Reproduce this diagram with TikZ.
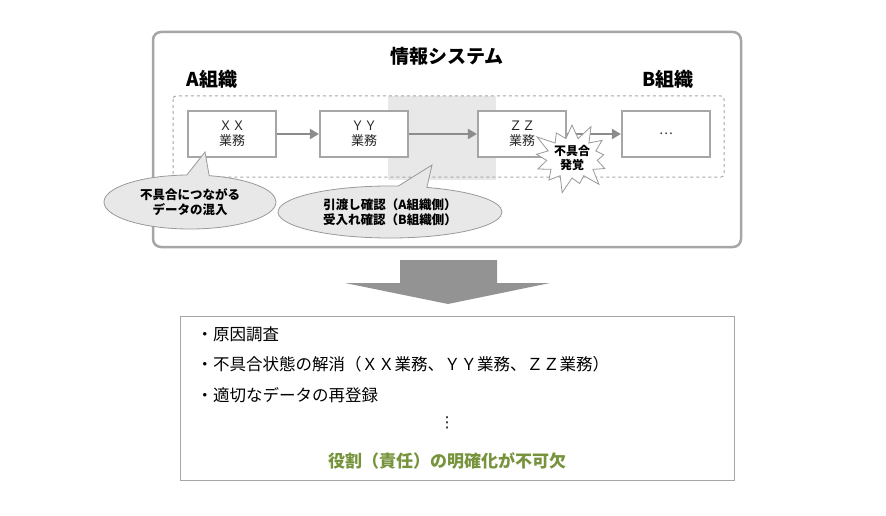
\documentclass[tikz,border=0pt]{standalone}
\usepackage{fontspec}
\setmainfont{Noto Sans CJK JP}
\newfontfamily\symfont{DejaVu Sans}
\usetikzlibrary{shapes.symbols,shapes.callouts,arrows.meta}
\definecolor{frame}{HTML}{A6A6A6}
\definecolor{paleshade}{HTML}{E8E8E8}
\definecolor{keygreen}{HTML}{77933C}
\tikzset{
  task/.style={draw=frame, line width=2.2pt, fill=white, minimum width=88pt, minimum height=46pt, align=center, font=\fontsize{13}{15}\selectfont, text=black!85},
  flow/.style={draw=gray!90, line width=2.5pt, -{Triangle[length=9pt,width=10pt]}},
  bubble/.style={ellipse callout, draw=gray!80, fill=paleshade, line width=0.8pt, align=center, font=\bfseries\fontsize{12.5}{15}\selectfont},
  item/.style={anchor=west, font=\fontsize{16.5}{19}\selectfont}
}
\begin{document}
\begin{tikzpicture}[x=1pt, y=-1pt]
\useasboundingbox (0,0) rectangle (886,516);
% system frame
\draw[draw=frame, line width=2.5pt, rounded corners=8pt] (153,32) rectangle (741,247);
\node[font=\bfseries\fontsize{19}{21}\selectfont] (title) at (447,56) {情報システム};
\node[font=\bfseries\fontsize{19}{21}\selectfont] (orgA) at (212,79) {A組織};
\node[font=\bfseries\fontsize{19}{21}\selectfont] (orgB) at (668,79) {B組織};
\fill[paleshade] (388,96) rectangle (496,180);
\draw[frame, dashed, line width=1pt, rounded corners=3pt] (173,96) rectangle (724,177);
% tasks
\node[task] (xx) at (232,134) {ＸＸ\\業務};
\node[task] (yy) at (364,134) {ＹＹ\\業務};
\node[task] (zz) at (522,134) {ＺＺ\\業務};
\node[task] (etc) at (666,134) {…};
\draw[flow] (xx) -- (yy);
\draw[flow] (yy) -- (zz);
\draw[flow] (zz) -- (etc);
\node[starburst, draw=gray!80, fill=white, line width=0.8pt, starburst points=13, starburst point height=18pt, minimum width=84pt, minimum height=76pt, align=center, font=\bfseries\fontsize{12}{14}\selectfont, inner sep=0pt] (alarm) at (572,158) {不具合\\発覚};
% callouts
\node[bubble, minimum width=172pt, minimum height=54pt, callout absolute pointer={(205,152)}] (mix) at (190,202) {不具合につながる\\データの混入};
\node[bubble, minimum width=224pt, minimum height=52pt, callout absolute pointer={(432,165)}] (check) at (390,212) {引渡し確認（A組織側）\\受入れ確認（B組織側）};
% big arrow
\fill[gray!85] (400,260) -- (497,260) -- (497,283) -- (550,283) -- (448,304) -- (345,283) -- (400,283) -- cycle;
% result box
\draw[frame, line width=1pt] (180,316) rectangle (734,480);
\node[item] (r1) at (193,334) {・原因調査};
\node[item] (r2) at (193,364) {・不具合状態の解消（ＸＸ業務、ＹＹ業務、ＺＺ業務）};
\node[item] (r3) at (193,395) {・適切なデータの再登録};
\node[font=\symfont\fontsize{15}{17}\selectfont] (dots) at (447,423) {⋮};
\node[font=\bfseries\fontsize{17}{19}\selectfont, text=keygreen] (key) at (447,461) {役割（責任）の明確化が不可欠};
\end{tikzpicture}
\end{document}
